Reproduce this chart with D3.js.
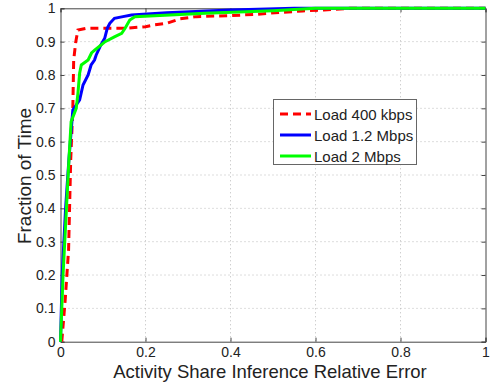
<!DOCTYPE html>
<html>
<head>
<meta charset="utf-8">
<script src="https://cdn.jsdelivr.net/npm/d3@7"></script>
<style>
body { margin: 0; background: #fff; }
text { font-family: "Liberation Sans", Arial, sans-serif; fill: #222; }
</style>
</head>
<body>
<div id="chart"></div>
<script>
var W = 490, H = 382;

// CDF curves
var redX = [0.003, 0.011, 0.019, 0.024, 0.029, 0.031, 0.036, 0.041, 0.06, 0.15, 0.2, 0.22, 0.25, 0.28, 0.32, 0.40, 0.46, 0.52, 0.57, 0.62, 0.68, 1];
var redY = [0, 0.125, 0.275, 0.545, 0.70, 0.845, 0.9, 0.935, 0.94, 0.94, 0.945, 0.95, 0.955, 0.968, 0.975, 0.978, 0.982, 0.988, 0.992, 0.995, 1, 1];

var blueX = [0, 0.004, 0.012, 0.02, 0.029, 0.045, 0.053, 0.065, 0.072, 0.08, 0.084, 0.095, 0.104, 0.11, 0.116, 0.127, 0.147, 0.167, 0.25, 0.4, 0.55, 1];
var blueY = [0, 0.2, 0.4, 0.55, 0.695, 0.725, 0.77, 0.8, 0.83, 0.845, 0.86, 0.89, 0.91, 0.94, 0.955, 0.97, 0.975, 0.98, 0.987, 0.995, 1, 1];

var greenX = [0, 0.006, 0.014, 0.02, 0.025, 0.037, 0.041, 0.045, 0.049, 0.065, 0.073, 0.081, 0.105, 0.128, 0.144, 0.152, 0.163, 0.175, 0.34, 0.5, 0.6, 1];
var greenY = [0, 0.2, 0.4, 0.55, 0.66, 0.70, 0.745, 0.805, 0.83, 0.845, 0.866, 0.875, 0.9, 0.915, 0.925, 0.94, 0.965, 0.975, 0.985, 0.993, 1, 1];

var names = ["Load 400 kbps", "Load 1.2 Mbps", "Load 2 Mbps"];
var colors = ["#ff0000", "#0000ff", "#00ff00"];
var xTicks = [0, 0.2, 0.4, 0.6, 0.8, 1];
var yTicks = [0, 0.1, 0.2, 0.3, 0.4, 0.5, 0.6, 0.7, 0.8, 0.9, 1];

var series = [
	{x: redX, y: redY, dash: "8,5"},
	{x: blueX, y: blueY, dash: null},
	{x: greenX, y: greenY, dash: null}
];

// plot box (window.top is taken, so pT/pB etc.)
var pL = 60.5, pR = 485.5, pT = 8.3, pB = 341.7;
var x = d3.scaleLinear().domain([0, 1]).range([pL, pR]);
var y = d3.scaleLinear().domain([0, 1]).range([pB, pT]);

var svg = d3.select("#chart").append("svg")
	.attr("width", W)
	.attr("height", H);

// grid
svg.append("g").selectAll("line")
	.data(xTicks.slice(1, -1))
	.enter()
	.append("line")
	.attr("x1", d => x(d)).attr("x2", d => x(d))
	.attr("y1", pT).attr("y2", pB)
	.attr("stroke", "#bbb")
	.attr("stroke-width", 1)
	.attr("stroke-dasharray", "1,3");

svg.append("g").selectAll("line")
	.data(yTicks.slice(1, -1))
	.enter()
	.append("line")
	.attr("x1", pL).attr("x2", pR)
	.attr("y1", d => y(d)).attr("y2", d => y(d))
	.attr("stroke", "#bbb")
	.attr("stroke-width", 1)
	.attr("stroke-dasharray", "1,3");

// axes, ticks inward like matlab
svg.append("g")
	.attr("transform", "translate(0," + pB + ")")
	.call(d3.axisBottom(x).tickValues(xTicks).tickSize(-4).tickPadding(5).tickFormat(d3.format("~g")));
svg.append("g")
	.attr("transform", "translate(" + pL + ",0)")
	.call(d3.axisLeft(y).tickValues(yTicks).tickSize(-4).tickPadding(5).tickFormat(d3.format("~g")));
svg.append("g")
	.attr("transform", "translate(0," + pT + ")")
	.call(d3.axisTop(x).tickValues(xTicks).tickSize(-4).tickFormat(""));
svg.append("g")
	.attr("transform", "translate(" + pR + ",0)")
	.call(d3.axisRight(y).tickValues(yTicks).tickSize(-4).tickFormat(""));

svg.selectAll(".domain").attr("stroke", "#444");
svg.selectAll(".tick line").attr("stroke", "#444");
svg.selectAll(".tick text").style("font-size", "14px").style("font-family", "Liberation Sans, Arial, sans-serif").attr("fill", "#222");

// curves
var line = d3.line().x(d => x(d[0])).y(d => y(d[1]));
series.forEach(function(s, i) {
	var pts = s.x.map((v, j) => [v, s.y[j]]);
	svg.append("path")
		.datum(pts)
		.attr("d", line)
		.attr("fill", "none")
		.attr("stroke", colors[i])
		.attr("stroke-width", 3)
		.attr("stroke-dasharray", s.dash);
});

// legend
var lg = svg.append("g");
lg.append("rect")
	.attr("x", 273.5).attr("y", 99.5)
	.attr("width", 143).attr("height", 65)
	.attr("fill", "#fff")
	.attr("stroke", "#666");
names.forEach(function(n, i) {
	var ly = 114 + i * 21;
	lg.append("line")
		.attr("x1", 280).attr("x2", 311)
		.attr("y1", ly).attr("y2", ly)
		.attr("stroke", colors[i])
		.attr("stroke-width", 3)
		.attr("stroke-dasharray", series[i].dash);
	lg.append("text")
		.attr("x", 314).attr("y", ly + 5.5)
		.style("font-size", "15px")
		.text(n);
});

// axis titles
svg.append("text")
	.attr("x", (pL + pR) / 2 - 3)
	.attr("y", 378)
	.attr("text-anchor", "middle")
	.style("font-size", "18.5px")
	.text("Activity Share Inference Relative Error");

svg.append("text")
	.attr("transform", "translate(31," + ((pT + pB) / 2 + 1) + ") rotate(-90)")
	.attr("text-anchor", "middle")
	.style("font-size", "19px")
	.text("Fraction of Time");
</script>
</body>
</html>
